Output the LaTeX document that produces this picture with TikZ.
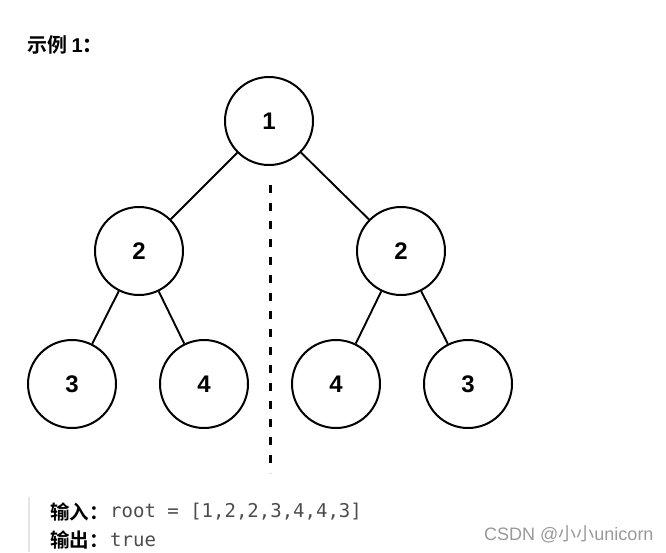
\documentclass[tikz,border=0pt]{standalone}
\usepackage{fontspec}
\setmainfont{Liberation Sans}
\newfontfamily\cjk{Noto Sans CJK SC}
\newfontfamily\cjkb{Noto Sans CJK SC Bold}
\newfontfamily\monof{DejaVu Sans Mono}
\begin{document}
\begin{tikzpicture}[x=1pt,y=-1pt,
  tn/.style={circle,draw=black,line width=2pt,minimum size=88pt,inner sep=0pt,font=\fontsize{24}{24}\selectfont\bfseries},
  ed/.style={line width=1.9pt,black},
  lbl/.style={anchor=west,inner sep=0pt}]
\useasboundingbox (0,0) rectangle (666,552);
\node[lbl] (title) at (27,45) {\fontsize{20}{20}\selectfont\cjkb 示例 \bfseries\rmfamily 1\cjkb ：};
\node[tn] (r) at (269,121) {1};
\node[tn] (a) at (139,251) {2};
\node[tn] (b) at (401,251) {2};
\node[tn] (a1) at (72,384) {3};
\node[tn] (a2) at (204,384) {4};
\node[tn] (b1) at (336,384) {4};
\node[tn] (b2) at (468,384) {3};
\draw[ed] (r) -- (a);
\draw[ed] (r) -- (b);
\draw[ed] (a) -- (a1);
\draw[ed] (a) -- (a2);
\draw[ed] (b) -- (b1);
\draw[ed] (b) -- (b2);
\coordinate (d1) at (270,185);
\coordinate (d2) at (270,473);
\draw[line width=3pt,dash pattern=on 8pt off 10pt] (d1) -- (d2);
\coordinate (g1) at (29,497);
\coordinate (g2) at (29,552);
\draw[line width=2pt,black!10] (g1) -- (g2);
\node[lbl] (in) at (50,512) {\fontsize{19.5}{20}\selectfont\cjkb 输入：};
\node[lbl,text=black!70] (inv) at (110,512) {\fontsize{19}{20}\selectfont\monof root = [1,2,2,3,4,4,3]};
\node[lbl] (out) at (50,540) {\fontsize{19.5}{20}\selectfont\cjkb 输出：};
\node[lbl,text=black!70] (outv) at (110,540) {\fontsize{19}{20}\selectfont\monof true};
\node[lbl,text=black!40] (wm) at (484,534) {\fontsize{18}{18}\selectfont CSDN @\cjk 小小\rmfamily unicorn};
\end{tikzpicture}
\end{document}
